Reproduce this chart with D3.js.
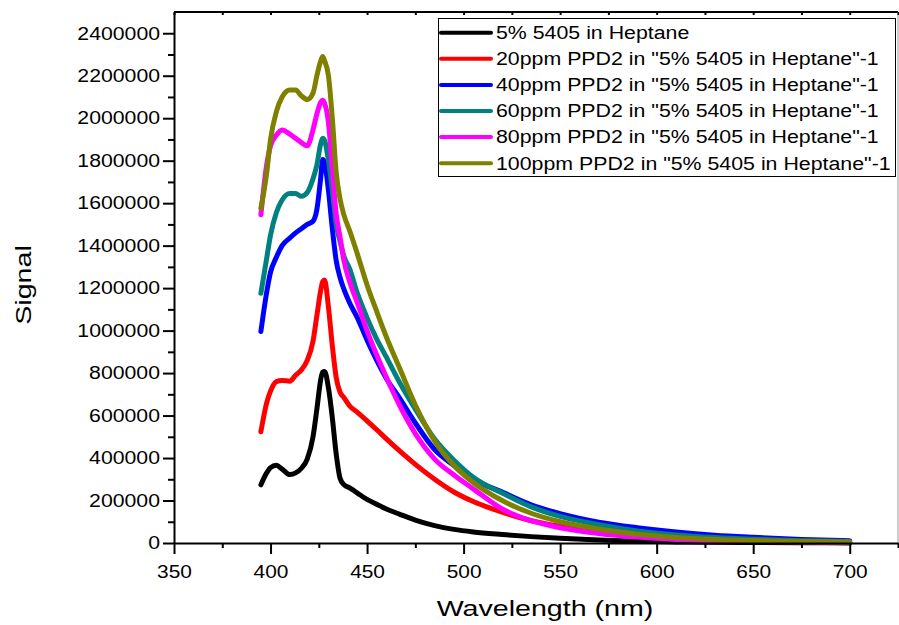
<!DOCTYPE html>
<html>
<head>
<meta charset="utf-8">
<script src="https://cdn.jsdelivr.net/npm/d3@7"></script>
<style>
  body { margin: 0; background: #fff; }
  svg { display: block; }
  text { font-family: "Liberation Sans", Arial, sans-serif; fill: #000; }
</style>
</head>
<body>
<svg id="chart"></svg>
<script>
// Данные: длины волн (нм) и сигналы серий
const wavelengths = [395, 398, 400, 403, 406, 410, 413, 416, 419, 422, 424, 426, 427, 428, 430, 432, 434, 436, 438,
  441, 445, 450, 455, 460, 467, 475, 485, 495, 505, 520, 535, 550, 570, 590, 610, 630, 650, 675, 700];

const heptane = [274000, 330000, 355000, 366000, 348000, 322000, 330000, 352000, 395000, 500000, 630000, 770000, 805000, 808000, 730000, 590000, 420000, 305000, 275000,
  260000, 235000, 205000, 182000, 160000, 135000, 108000, 82000, 64000, 52000, 40000, 30000, 22000, 14000, 8000, 5000, 3000, 2000, 1000, 500];
const ppm20 = [524000, 660000, 715000, 760000, 765000, 762000, 790000, 815000, 860000, 950000, 1070000, 1190000, 1230000, 1238000, 1110000, 930000, 780000, 710000, 685000,
  645000, 615000, 575000, 533000, 490000, 432000, 370000, 300000, 240000, 195000, 145000, 105000, 78000, 50000, 32000, 21000, 14000, 10000, 6000, 3000];
const ppm40 = [996000, 1180000, 1275000, 1345000, 1400000, 1436000, 1460000, 1480000, 1500000, 1515000, 1570000, 1720000, 1805000, 1790000, 1660000, 1480000, 1330000, 1250000, 1195000,
  1130000, 1060000, 955000, 860000, 775000, 680000, 565000, 440000, 365000, 300000, 240000, 180000, 138000, 98000, 72000, 52000, 37000, 27000, 17000, 11000];
const ppm60 = [1176000, 1340000, 1450000, 1555000, 1615000, 1645000, 1645000, 1632000, 1650000, 1715000, 1780000, 1880000, 1906000, 1895000, 1800000, 1660000, 1500000, 1420000, 1350000,
  1290000, 1175000, 1060000, 960000, 875000, 753000, 630000, 490000, 390000, 310000, 235000, 170000, 125000, 86000, 57000, 38000, 26000, 18000, 11000, 7000];
const ppm80 = [1545000, 1780000, 1870000, 1920000, 1945000, 1925000, 1905000, 1885000, 1870000, 1945000, 2020000, 2075000, 2085000, 2070000, 1980000, 1760000, 1550000, 1440000, 1330000,
  1230000, 1130000, 1000000, 885000, 780000, 645000, 515000, 395000, 320000, 255000, 160000, 105000, 72000, 45000, 28000, 17000, 11000, 8000, 5000, 3000];
const ppm100 = [1576000, 1741000, 1900000, 2030000, 2100000, 2133000, 2133000, 2105000, 2088000, 2118000, 2200000, 2270000, 2290000, 2270000, 2200000, 2000000, 1745000, 1620000, 1545000,
  1470000, 1360000, 1215000, 1090000, 970000, 820000, 650000, 480000, 365000, 285000, 200000, 140000, 100000, 66000, 41000, 26000, 17000, 12000, 7000, 5000];

const seriesNames = ["5% 5405 in Heptane",
  "20ppm PPD2 in \"5% 5405 in Heptane\"-1",
  "40ppm PPD2 in \"5% 5405 in Heptane\"-1",
  "60ppm PPD2 in \"5% 5405 in Heptane\"-1",
  "80ppm PPD2 in \"5% 5405 in Heptane\"-1",
  "100ppm PPD2 in \"5% 5405 in Heptane\"-1"];
const seriesColors = ["#000000", "#ff0000", "#0000ff", "#008080", "#ff00ff", "#808000"];
const seriesValues = [heptane, ppm20, ppm40, ppm60, ppm80, ppm100];

const xMajor = [350, 400, 450, 500, 550, 600, 650, 700];
const xMinor = [375, 425, 475, 525, 575, 625, 675, 725];
const yMajor = d3.range(0, 2400001, 200000);
const yMinor = d3.range(100000, 2400000, 200000);

// Размеры
const width = 899, height = 625;
const svg = d3.select("#chart").attr("width", width).attr("height", height);

const x = d3.scaleLinear().domain([350, 725]).range([174, 898]);
const y = d3.scaleLinear().domain([0, 2500000]).range([543, 12]);

// растягиваем текст по горизонтали, как на исходнике
function stretch(sel, k) {
  sel.each(function() {
    const w = this.getComputedTextLength();
    d3.select(this).attr("textLength", w * k).attr("lengthAdjust", "spacingAndGlyphs");
  });
}

// Рамка сверху и справа
svg.append("line").attr("x1", 174).attr("x2", 898).attr("y1", 12).attr("y2", 12)
  .attr("stroke", "#000").attr("stroke-width", 2);
svg.append("line").attr("x1", 898).attr("x2", 898).attr("y1", 12).attr("y2", 543)
  .attr("stroke", "#999").attr("stroke-width", 1);

// Верхние засечки (внутрь)
svg.append("g").attr("transform", "translate(0,12)")
  .call(d3.axisTop(x).tickValues(xMajor.concat(xMinor)).tickSize(-3).tickFormat(""))
  .call(g => g.select(".domain").remove())
  .selectAll("line").attr("stroke-width", 2);

// Линии графиков
const line = d3.line()
  .x((d, i) => x(wavelengths[i]))
  .y(d => y(d))
  .curve(d3.curveMonotoneX);

svg.append("g").selectAll("path")
  .data(seriesValues)
  .join("path")
  .attr("d", d => line(d))
  .attr("fill", "none")
  .attr("stroke", (d, i) => seriesColors[i])
  .attr("stroke-width", 5)
  .attr("stroke-linejoin", "round")
  .attr("stroke-linecap", "round");

// Ось X
const gx = svg.append("g").attr("transform", "translate(0,543)");
gx.call(d3.axisBottom(x).tickValues(xMinor).tickSize(5).tickFormat("").tickSizeOuter(0))
  .call(g => g.select(".domain").remove());
gx.append("g").call(d3.axisBottom(x).tickValues(xMajor).tickSize(11).tickSizeOuter(0).tickFormat(d3.format("d")));
gx.selectAll("line, path").attr("stroke", "#000").attr("stroke-width", 2);
gx.selectAll("text").attr("font-size", 18).attr("y", 35).attr("dy", null)
  .attr("font-family", "Liberation Sans, Arial, sans-serif").call(stretch, 1.16);

// Ось Y
const gy = svg.append("g").attr("transform", "translate(174,0)");
gy.call(d3.axisLeft(y).tickValues(yMinor).tickSize(6).tickFormat("").tickSizeOuter(0))
  .call(g => g.select(".domain").remove());
gy.append("g").call(d3.axisLeft(y).tickValues(yMajor).tickSize(11).tickSizeOuter(0).tickFormat(d3.format("d")));
gy.selectAll("line, path").attr("stroke", "#000").attr("stroke-width", 2);
gy.selectAll("text").attr("font-size", 18)
  .attr("font-family", "Liberation Sans, Arial, sans-serif").call(stretch, 1.18);

// Подписи осей
svg.append("text").attr("x", 545).attr("y", 616).attr("text-anchor", "middle")
  .attr("font-size", 22).text("Wavelength (nm)").call(stretch, 1.3);
svg.append("text").attr("transform", "translate(31,285) rotate(-90)").attr("text-anchor", "middle")
  .attr("font-size", 22).text("Signal").call(stretch, 1.3);

// Легенда
const legend = svg.append("g");
legend.append("rect").attr("x", 438.5).attr("y", 18.5).attr("width", 457).attr("height", 158)
  .attr("fill", "#fff").attr("stroke", "#000").attr("stroke-width", 1);
const rows = legend.selectAll("g.row").data(seriesNames).join("g")
  .attr("class", "row")
  .attr("transform", (d, i) => `translate(0,${32.7 + i * 26.1})`);
rows.append("line").attr("x1", 441).attr("x2", 491).attr("y1", 0).attr("y2", 0)
  .attr("stroke", (d, i) => seriesColors[i]).attr("stroke-width", 4).attr("stroke-linecap", "round");
rows.append("text").attr("x", 496).attr("y", 0).attr("dy", "0.35em")
  .attr("font-size", 18).text(d => d).call(stretch, 1.185);
</script>
</body>
</html>
